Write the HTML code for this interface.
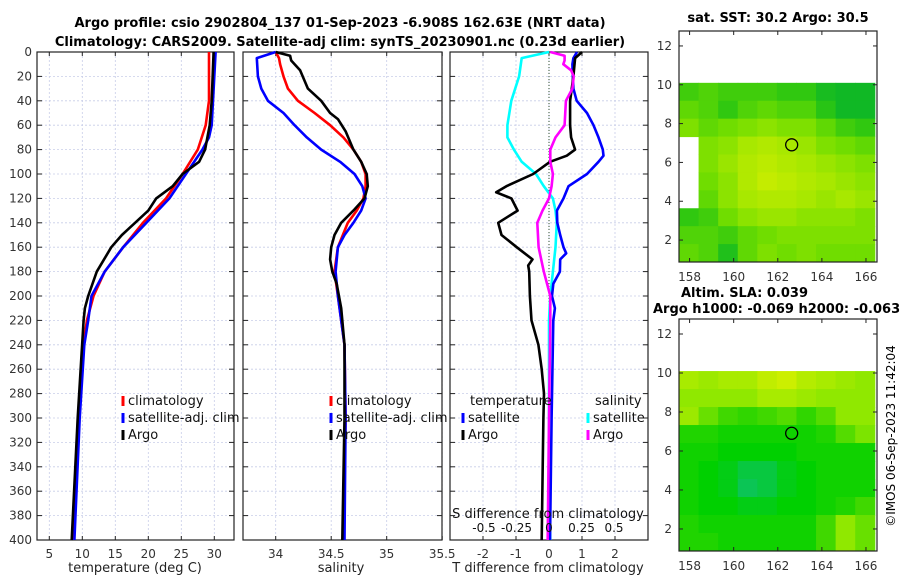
<!DOCTYPE html>
<html><head><meta charset="utf-8">
<style>
html,body{margin:0;padding:0;background:#fff;}
svg{display:block;font-family:"DejaVu Sans","Liberation Sans",sans-serif;}
</style></head>
<body>
<svg id="chart" width="900" height="580" viewBox="0 0 900 580" xmlns="http://www.w3.org/2000/svg">
<text x="340" y="27" font-size="13" font-weight="bold" text-anchor="middle">Argo profile: csio 2902804_137 01-Sep-2023 -6.908S 162.63E (NRT data)</text>
<text x="340" y="46" font-size="13" font-weight="bold" text-anchor="middle">Climatology: CARS2009. Satellite-adj clim: synTS_20230901.nc (0.23d earlier)</text>
<text x="778" y="22" font-size="13" font-weight="bold" text-anchor="middle">sat. SST: 30.2 Argo: 30.5</text>
<text x="681" y="297" font-size="13" font-weight="bold">Altim. SLA: 0.039</text>
<text x="653" y="313" font-size="13" font-weight="bold">Argo h1000: -0.069 h2000: -0.063</text>
<text transform="translate(895,436) rotate(-90)" font-size="12" text-anchor="middle">©IMOS 06-Sep-2023 11:42:04</text>
<g id="plots"></g>
</svg>
<script>
// ---- data ----
const depthTicks = [0,20,40,60,80,100,120,140,160,180,200,220,240,260,280,300,320,340,360,380,400];
const tempTicks = [5,10,15,20,25,30];
const salTicks = [34,34.5,35,35.5];
const salTickLabels = ["34","34.5","35","35.5"];
const tdTicks = [-2,-1,0,1,2];
const sdTicks = [-0.5,-0.25,0,0.25,0.5];
const sdTickLabels = ["-0.5","-0.25","0","0.25","0.5"];

const tClimDepth = [0,40,60,80,100,120,140,160,180,200,220,240,300,400];
const tClimVal   = [29.2,29.2,28.7,27.5,25.2,22.7,19.2,16.2,13.4,11.7,10.7,10.2,9.4,8.7];
const tSatDepth  = [0,40,60,70,80,100,120,140,160,180,200,220,240,300,400];
const tSatVal    = [30.2,29.8,29.6,29.2,28.2,25.7,23.2,19.7,16.2,13.4,11.4,10.9,10.3,9.6,8.8];
const tArgoDepth = [0,40,60,80,90,100,110,120,130,140,150,160,180,200,210,220,300,400];
const tArgoVal   = [29.9,29.6,29.3,28.6,27.7,25.2,23.7,21.2,20.0,18.0,16.0,14.4,12.2,10.9,10.4,10.2,9.3,8.4];

const sClimDepth = [0,5,10,20,30,40,50,60,70,80,90,100,110,120,130,140,160,180,200,220,240,300,400];
const sClimVal   = [34.0,34.03,34.04,34.07,34.11,34.2,34.35,34.49,34.61,34.7,34.77,34.81,34.81,34.79,34.73,34.65,34.56,34.53,34.56,34.59,34.62,34.63,34.61];
const sSatDepth  = [0,5,20,30,40,50,60,70,80,90,100,110,120,130,140,150,160,180,200,220,240,300,400];
const sSatVal    = [34.0,33.83,33.84,33.87,33.93,34.07,34.17,34.28,34.41,34.58,34.71,34.78,34.81,34.77,34.70,34.62,34.56,34.54,34.56,34.59,34.62,34.63,34.62];
const sArgoDepth = [0,3,7,10,15,30,40,50,55,65,80,90,100,110,120,130,140,150,160,170,180,190,210,240,300,400];
const sArgoVal   = [34.0,34.13,34.14,34.17,34.22,34.29,34.41,34.49,34.56,34.63,34.70,34.77,34.82,34.83,34.80,34.70,34.59,34.53,34.50,34.49,34.51,34.55,34.59,34.62,34.62,34.60];

const dtSatDepth  = [0,5,10,20,30,40,50,60,70,80,85,90,100,110,120,130,140,150,160,165,170,180,190,200,210,220,300,400];
const dtSatVal    = [0.85,0.74,0.71,0.72,0.74,0.84,1.15,1.35,1.50,1.63,1.65,1.50,1.15,0.59,0.44,0.24,0.25,0.34,0.44,0.52,0.34,0.33,0.13,0.09,0.18,0.13,0.08,0.03];
const dtArgoDepth = [0,5,20,40,60,70,80,85,90,100,110,115,120,130,140,150,160,170,175,180,200,220,240,260,280,300,340,400];
const dtArgoVal   = [1.0,0.79,0.74,0.64,0.64,0.67,0.79,0.54,0.03,-0.48,-1.29,-1.6,-1.14,-0.95,-1.54,-1.44,-0.98,-0.5,-0.63,-0.60,-0.58,-0.53,-0.32,-0.22,-0.15,-0.17,-0.19,-0.22];
const dsSatDepth  = [0,5,20,40,60,70,80,90,100,110,120,130,140,160,180,200,220,300,400];
const dsSatVal    = [0,-0.21,-0.23,-0.29,-0.32,-0.32,-0.27,-0.21,-0.10,-0.04,0.03,0.05,0.06,0.05,0.03,0.01,0,0,0.01];
const dsArgoDepth = [0,3,7,10,15,20,30,40,60,70,80,90,100,110,120,130,140,160,180,200,220,300,400];
const dsArgoVal   = [0.01,0.12,0.12,0.11,0.17,0.19,0.18,0.13,0.12,0.05,0.01,0.01,0.03,0.02,0,-0.05,-0.09,-0.08,-0.04,0.01,0.01,0,-0.01];

// map grids (rows top->bottom lat 10.1..0.87, cols lon 157.5..166.5); null = no data
const sstGrid = [
 [.35,.40,.35,.35,.35,.30,.30,.15,.10,.10],
 [.45,.40,.30,.40,.45,.40,.40,.25,.10,.10],
 [.55,.45,.50,.55,.60,.55,.55,.45,.35,.30],
 [null,.55,.60,.70,.75,.70,.65,.55,.50,.45],
 [null,.55,.65,.75,.80,.75,.70,.65,.60,.55],
 [null,.50,.60,.75,.85,.80,.75,.70,.65,.60],
 [null,.45,.60,.70,.75,.75,.70,.65,.70,.65],
 [.30,.35,.50,.60,.65,.65,.60,.60,.60,.55],
 [.40,.40,.35,.45,.50,.55,.55,.55,.55,.55],
 [.45,.40,.20,.45,.55,.50,.55,.50,.50,.50]];
const slaGrid = [
 [.80,.75,.80,.80,.90,.95,.85,.80,.75,.70],
 [.70,.70,.70,.70,.80,.80,.75,.70,.70,.70],
 [.75,.60,.50,.45,.50,.55,.45,.55,.70,.70],
 [.40,.40,.35,.35,.35,.35,.35,.40,.55,.65],
 [.35,.35,.30,.30,.30,.30,.35,.35,.35,.35],
 [.35,.30,.25,.15,.15,.25,.30,.35,.35,.35],
 [.35,.30,.25,.10,.15,.25,.30,.35,.35,.35],
 [.35,.30,.30,.25,.25,.30,.30,.35,.40,.50],
 [.40,.35,.35,.35,.35,.35,.35,.50,.70,.60],
 [.40,.40,.35,.35,.35,.35,.35,.50,.70,.60]];
const lonTicks = [158,160,162,164,166];
const latTicks = [2,4,6,8,10,12];
const argoLon = 162.63, argoLat = 6.908;

// ---- drawing ----
const NS = "http://www.w3.org/2000/svg";
const root = document.getElementById('plots');
function el(tag, attrs, parent){ const e=document.createElementNS(NS,tag); for(const k in attrs) e.setAttribute(k,attrs[k]); (parent||root).appendChild(e); return e; }
const Y0=52, Y1=540;
const yD = d => Y0 + d/400*(Y1-Y0);
function lin(d0,d1,r0,r1){ return v => r0 + (v-d0)/(d1-d0)*(r1-r0); }

function panel(name, x0, x1, xs, xt, xl, leftLabels){
  const g = el('g',{});
  
  
  xt.forEach((t,i)=>{ const x=xs(t);
    el('line',{x1:x,x2:x,y1:Y0,y2:Y1,stroke:'#c8cde8','stroke-width':0.8,'stroke-dasharray':'2,2'},g);
    el('line',{x1:x,x2:x,y1:Y1,y2:Y1-4,stroke:'#222','stroke-width':1},g);
    el('line',{x1:x,x2:x,y1:Y0,y2:Y0+4,stroke:'#222','stroke-width':1},g);
    if(xl){ const tx=el('text',{x:x,y:Y1+18,'font-size':12,'text-anchor':'middle',fill:'#333'},g); tx.textContent=xl[i]; }
  });
  depthTicks.forEach(d=>{ const y=yD(d);
    el('line',{x1:x0,x2:x1,y1:y,y2:y,stroke:'#c8cde8','stroke-width':0.8,'stroke-dasharray':'2,2'},g);
    el('line',{x1:x0,x2:x0+5,y1:y,y2:y,stroke:'#222'},g);
    el('line',{x1:x1,x2:x1-5,y1:y,y2:y,stroke:'#222'},g);
    if(leftLabels){ const tx=el('text',{x:x0-5,y:y+4,'font-size':12,'text-anchor':'end',fill:'#333'},g); tx.textContent=d; }
  });
  el('rect',{x:x0,y:Y0,width:x1-x0,height:Y1-Y0,fill:'none',stroke:'#222','stroke-width':1.2},g);
  return g;
}
function series(g, name, depths, vals, xs, color){
  const pts = depths.map((d,i)=>xs(vals[i]).toFixed(1)+','+yD(d).toFixed(1)).join(' ');
  const p = el('polyline',{points:pts,fill:'none',stroke:color,'stroke-width':2.6,'stroke-linejoin':'round'},g);
  
  
}
function legendEntry(g, name, x, y, color, label){
  const lg = el('g',{},g);
  
  
  el('line',{x1:x,x2:x,y1:y-9,y2:y+1,stroke:color,'stroke-width':3},lg);
  const t=el('text',{x:x+5,y:y,'font-size':13,fill:'#111'},lg); t.textContent=label;
}

// panel 1 temperature
const xT = lin(5,30,49.3,214.3);
const p1 = panel('temperature-panel',37,234,xT,tempTicks,tempTicks.map(String),true);
series(p1,'temp-climatology-line',tClimDepth,tClimVal,xT,'#ff0000');
series(p1,'temp-satellite-line',tSatDepth,tSatVal,xT,'#0000ff');
series(p1,'temp-argo-line',tArgoDepth,tArgoVal,xT,'#000000');
legendEntry(p1,'legend-climatology',123,405,'#ff0000','climatology');
legendEntry(p1,'legend-satellite',123,422,'#0000ff','satellite-adj. clim');
legendEntry(p1,'legend-argo',123,439,'#000000','Argo');
let t=el('text',{x:135,y:572,'font-size':13,'text-anchor':'middle',fill:'#222'},p1); t.textContent='temperature (deg C)';



// panel 2 salinity
const xS = lin(34,35,275.7,386.7);
const p2 = panel('salinity-panel',243,442,xS,salTicks,salTickLabels,false);
series(p2,'sal-climatology-line',sClimDepth,sClimVal,xS,'#ff0000');
series(p2,'sal-satellite-line',sSatDepth,sSatVal,xS,'#0000ff');
series(p2,'sal-argo-line',sArgoDepth,sArgoVal,xS,'#000000');
legendEntry(p2,'legend-climatology',331,405,'#ff0000','climatology');
legendEntry(p2,'legend-satellite',331,422,'#0000ff','satellite-adj. clim');
legendEntry(p2,'legend-argo',331,439,'#000000','Argo');
t=el('text',{x:341,y:572,'font-size':13,'text-anchor':'middle',fill:'#222'},p2); t.textContent='salinity';



// panel 3 differences
const xDT = lin(-3,3,450,648);
const xDS = lin(-0.5,0.5,484,614);
const p3 = panel('difference-panel',450,648,xDT,tdTicks,tdTicks.map(String),false);
el('line',{x1:xDT(0),x2:xDT(0),y1:Y0,y2:Y1,stroke:'#305030','stroke-width':1,'stroke-dasharray':'1,2'},p3);
series(p3,'sal-diff-satellite-line',dsSatDepth,dsSatVal,xDS,'#00ffff');
series(p3,'temp-diff-satellite-line',dtSatDepth,dtSatVal,xDT,'#0000ff');
series(p3,'temp-diff-argo-line',dtArgoDepth,dtArgoVal,xDT,'#000000');
series(p3,'sal-diff-argo-line',dsArgoDepth,dsArgoVal,xDS,'#ff00ff');
t=el('text',{x:470,y:405,'font-size':13,fill:'#111'},p3); t.textContent='temperature';
t=el('text',{x:595,y:405,'font-size':13,fill:'#111'},p3); t.textContent='salinity';
legendEntry(p3,'legend-temp-satellite',463,422,'#0000ff','satellite');
legendEntry(p3,'legend-temp-argo',463,439,'#000000','Argo');
legendEntry(p3,'legend-sal-satellite',588,422,'#00ffff','satellite');
legendEntry(p3,'legend-sal-argo',588,439,'#ff00ff','Argo');
t=el('text',{x:548,y:518,'font-size':13,'text-anchor':'middle',fill:'#111'},p3); t.textContent='S difference from climatology';


sdTicks.forEach((v,i)=>{ const tx=el('text',{x:xDS(v),y:532,'font-size':12,'text-anchor':'middle',fill:'#111'},p3); tx.textContent=sdTickLabels[i]; });
t=el('text',{x:548,y:572,'font-size':13,'text-anchor':'middle',fill:'#222'},p3); t.textContent='T difference from climatology';



// maps
function hex(c){return [parseInt(c.slice(1,3),16),parseInt(c.slice(3,5),16),parseInt(c.slice(5,7),16)];}
function ramp(stops){ return v=>{ for(let i=1;i<stops.length;i++){ if(v<=stops[i][0]||i==stops.length-1){ const a=stops[i-1],b=stops[i]; const f=Math.max(0,Math.min(1,(v-a[0])/(b[0]-a[0]))); const ca=hex(a[1]),cb=hex(b[1]); return 'rgb('+ca.map((x,k)=>Math.round(x+(cb[k]-x)*f)).join(',')+')'; } } }; }
const sstRamp = ramp([[0,'#00b030'],[0.3,'#30c810'],[0.5,'#70dd00'],[0.7,'#a8e800'],[1,'#e0f000']]);
const slaRamp = ramp([[0,'#10c080'],[0.3,'#00d000'],[0.5,'#40d800'],[0.7,'#90e800'],[1,'#d8f000']]);
function mapPanel(name, top, bottom, grid, rampFn){
  const g = el('g',{});
  
  
  const x0=679,x1=877;
  const xL = lin(157.52,166.5,x0,x1);
  const yL = lin(12.77,0.87,top,bottom);
  const nr=grid.length, nc=grid[0].length;
  const latTop=10.1, latBot=0.87, lonL=157.52, lonR=166.4;
  for(let r=0;r<nr;r++) for(let c=0;c<nc;c++){
    const v=grid[r][c]; if(v===null) continue;
    const xa=xL(lonL+(lonR-lonL)*c/nc), xb=xL(lonL+(lonR-lonL)*(c+1)/nc);
    const ya=yL(latTop-(latTop-latBot)*r/nr), yb=yL(latTop-(latTop-latBot)*(r+1)/nr);
    const cell = el('rect',{x:xa,y:ya,width:xb-xa+0.5,height:yb-ya+0.5,fill:rampFn(v)},g);
    
    
  }
  lonTicks.forEach(l=>{ const x=xL(l);
    el('line',{x1:x,x2:x,y1:bottom,y2:bottom-4,stroke:'#222'},g);
    el('line',{x1:x,x2:x,y1:top,y2:top+4,stroke:'#222'},g);
    const tx=el('text',{x:x,y:bottom+19,'font-size':12,'text-anchor':'middle',fill:'#333'},g); tx.textContent=l; });
  latTicks.forEach(l=>{ const y=yL(l);
    el('line',{x1:x0,x2:x0+4,y1:y,y2:y,stroke:'#222'},g);
    el('line',{x1:x1,x2:x1-4,y1:y,y2:y,stroke:'#222'},g);
    const tx=el('text',{x:x0-7,y:y+4,'font-size':12,'text-anchor':'end',fill:'#333'},g); tx.textContent=l; });
  el('rect',{x:x0,y:top,width:x1-x0,height:bottom-top,fill:'none',stroke:'#222','stroke-width':1.2},g);
  const m = el('circle',{cx:xL(argoLon),cy:yL(argoLat),r:6,fill:'none',stroke:'#000','stroke-width':1.3},g);
  
  
}
mapPanel('sst-map',31,262,sstGrid,sstRamp);
mapPanel('sla-map',319,551,slaGrid,slaRamp);
</script>
</body></html>
